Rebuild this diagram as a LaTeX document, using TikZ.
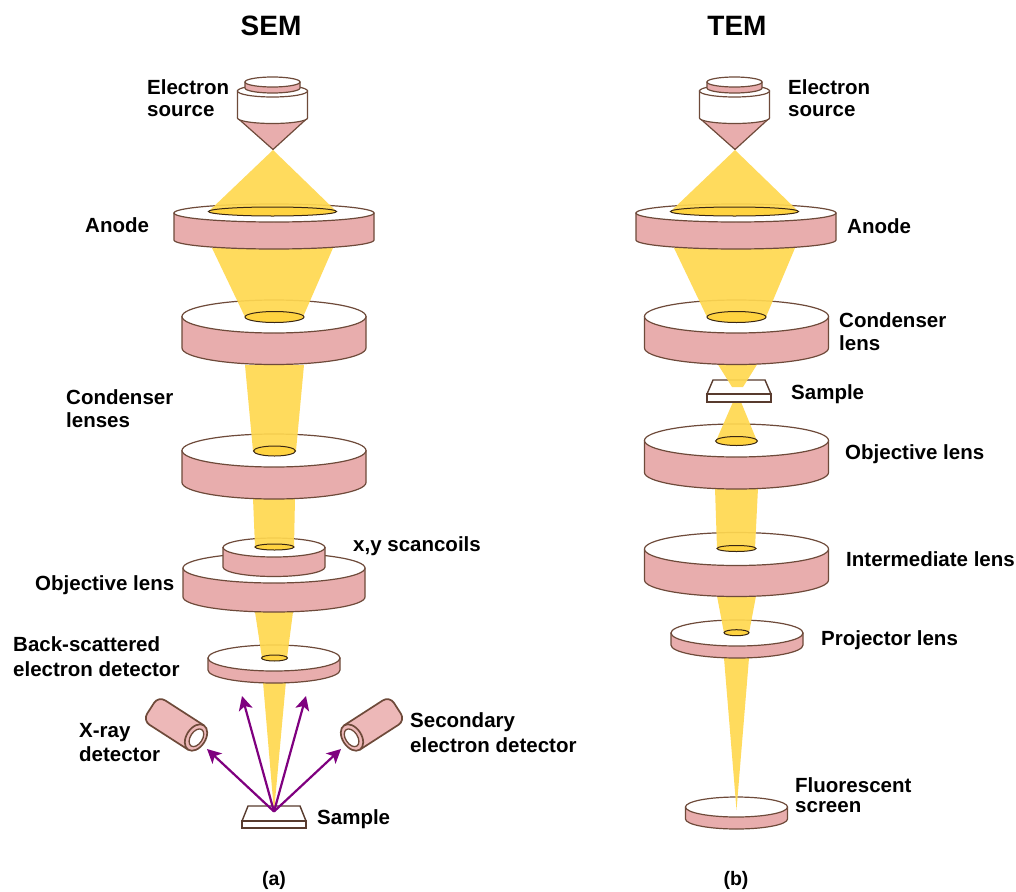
\documentclass[tikz,border=0pt]{standalone}
\usepackage{fontspec}
\setmainfont{Liberation Sans}
\usetikzlibrary{arrows.meta}
\definecolor{lenspink}{HTML}{E8ADAD}
\definecolor{detpink}{HTML}{EDB8B8}
\definecolor{edgebrown}{HTML}{6E4A3A}
\definecolor{beamgold}{HTML}{FFD850}
\definecolor{holegold}{HTML}{FFD340}
\definecolor{ray}{HTML}{7F007F}
\tikzset{
  lensbody/.style={fill=lenspink,draw=edgebrown,line width=1.2pt,line join=round},
  lenstop/.style={fill=white,draw=edgebrown,line width=1.2pt},
  lenshole/.style={fill=holegold,draw=black!70!brown,line width=1pt},
  beamfill/.style={fill=beamgold,fill opacity=.92,draw=none},
  lab/.style={font=\fontsize{20.5}{23}\selectfont\bfseries,align=left,anchor=west,inner sep=0pt},
  title/.style={font=\fontsize{28}{30}\selectfont\bfseries,inner sep=0pt},
  caption/.style={font=\fontsize{19.5}{22}\selectfont\bfseries,inner sep=0pt},
  rayline/.style={draw=ray,line width=2.2pt,-{Stealth[length=14pt,width=14pt,inset=3.5pt]}},
  samplebox/.style={fill=white,draw=edgebrown!80!black,line width=1.4pt,line join=miter}
}
% cx, cy, rx, ry, h
\newcommand{\lensdisk}[5]{%
  \path[lensbody] ({#1-#3},{-(#2)}) -- ({#1-#3},{-(#2+#5)}) arc[start angle=180,end angle=360,x radius=#3,y radius=#4] -- ({#1+#3},{-(#2)}) -- cycle;
  \path[lenstop] (#1,{-(#2)}) ellipse[x radius=#3,y radius=#4];
}
\newcommand{\lenshole}[4]{\path[lenshole] (#1,{-(#2)}) ellipse[x radius=#3,y radius=#4];}
% left top, right top, y top, left bottom, right bottom, y bottom
\newcommand{\beamtrap}[6]{\path[beamfill] (#1,-#3) -- (#2,-#3) -- (#5,-#6) -- (#4,-#6) -- cycle;}
% x offset of the source
\newcommand{\source}[1]{%
  \path[lensbody] ({#1-35},-118) -- ({#1+35},-118) -- ({#1+0.5},-149.5) -- cycle;
  \path[fill=white,draw=edgebrown,line width=1.2pt] ({#1-35},-91) -- ({#1-35},-118) arc[start angle=180,end angle=360,x radius=35,y radius=5.5] -- ({#1+35},-91) -- cycle;
  \path[lenstop] (#1,-91) ellipse[x radius=35,y radius=6];
  \path[lensbody] ({#1-27.5},-82) -- ({#1-27.5},-88) arc[start angle=180,end angle=360,x radius=27.5,y radius=5] -- ({#1+27.5},-82) -- cycle;
  \path[lenstop] (#1,-82) ellipse[x radius=27.5,y radius=5];
}
\newcommand{\detector}[1]{%
  \begin{scope}[#1]
    \path[fill=detpink,draw=edgebrown,line width=1.7pt,rounded corners=8pt] (0,14.5) -- (-54,14.5) -- (-54,-14.5) -- (0,-14.5);
    \path[fill=detpink,draw=edgebrown,line width=1.7pt] (0,0) ellipse[x radius=9.5,y radius=14.5];
    \path[fill=white,draw=edgebrown,line width=1.3pt] (0.5,0) ellipse[x radius=6,y radius=9.8];
  \end{scope}
}
\begin{document}
\begin{tikzpicture}[x=1pt,y=1pt]
\useasboundingbox (0,0) rectangle (1016,-891);
\fill[white] (0,0) rectangle (1016,-891);

% ---------- SEM ----------
\path[samplebox] (248,-806) -- (300,-806) -- (306,-821) -- (242,-821) -- cycle;
\path[samplebox] (242,-821) rectangle (306,-828);
\beamtrap{262}{287}{670}{274}{274}{812}
\lensdisk{274}{658}{66}{13}{12}
\beamtrap{255}{293}{612}{262}{287}{658}
\lenshole{274.5}{658}{13}{3}
\lensdisk{274}{568}{91}{15}{29}
\lensdisk{274}{547.5}{51}{9.5}{19.5}
\beamtrap{253}{295}{498}{255}{294}{547}
\lenshole{274.5}{547}{19.5}{3}
\lensdisk{274}{450.5}{92}{16.5}{32}
\beamtrap{245}{304}{365}{253}{296}{451}
\lenshole{274.5}{451}{21}{5}
\lensdisk{274}{316.5}{92}{16.5}{31.5}
\beamtrap{212}{333}{248}{245}{303}{317}
\lenshole{274.5}{317}{29.5}{5.5}
\lensdisk{274}{213}{100}{9}{27}
\beamtrap{208}{337}{212}{273}{273}{150}
\lenshole{272.5}{211.5}{64}{4.5}
\source{272.5}

\detector{shift={(196,-737.5)},rotate=-32.8}
\detector{shift={(352,-737.5)},xscale=-1,rotate=-32.8}

\coordinate (hitA) at (274,-811.5);
\coordinate (rayA) at (207,-749);
\coordinate (rayB) at (242,-696);
\coordinate (rayC) at (306,-696);
\coordinate (rayD) at (341,-749);
\draw[rayline] (hitA) -- (rayA);
\draw[rayline] (hitA) -- (rayB);
\draw[rayline] (hitA) -- (rayC);
\draw[rayline] (hitA) -- (rayD);

% ---------- TEM ----------
\lensdisk{736.5}{807}{51}{10}{12}
\beamtrap{724}{749}{658}{736.5}{736.5}{810}
\lensdisk{737}{633}{66}{13}{12}
\beamtrap{717}{756}{596}{724}{749}{633}
\lenshole{736.5}{632.7}{12.5}{3}
\lensdisk{736.5}{549}{92}{16.5}{31}
\beamtrap{715}{758}{488}{717}{755}{548.5}
\lenshole{736.5}{548.5}{19.5}{3}
\lensdisk{736.5}{440.5}{92}{16.5}{32}
\beamtrap{733}{741}{402}{716}{757}{441}
\lenshole{736.5}{441}{21}{4.5}
\path[samplebox] (713,-380) -- (765,-380) -- (771,-394) -- (707,-394) -- cycle;
\path[samplebox] (707,-394) rectangle (771,-402);
\beamtrap{717}{758}{363}{732}{743}{387}
\lensdisk{736.5}{316.5}{92}{16.5}{31.5}
\beamtrap{674}{795}{248}{707}{766}{317}
\lenshole{736.5}{317}{29.5}{5.5}
\lensdisk{736}{213}{100}{9}{27}
\beamtrap{670}{799}{212}{735}{735}{150}
\lenshole{734.5}{211.5}{64}{4.5}
\source{734.5}

% ---------- labels ----------
\node[title] (semTitle) at (271,-26) {SEM};
\node[title] (temTitle) at (737,-26) {TEM};
\node[caption] (capA) at (274,-880) {(a)};
\node[caption] (capB) at (736,-880) {(b)};

\node[lab,font=\fontsize{20.5}{22}\selectfont\bfseries] (lSource) at (147,-98.5) {Electron\\source};
\node[lab] (lAnode) at (85,-225) {Anode};
\node[lab] (lCond) at (66,-408.5) {Condenser\\lenses};
\node[lab] (lScan) at (353,-546) {x,y scancoils};
\node[lab] (lObj) at (35,-585) {Objective lens};
\node[lab,font=\fontsize{20.5}{24.5}\selectfont\bfseries] (lBack) at (13,-656.5) {Back-scattered\\electron detector};
\node[lab,font=\fontsize{20.5}{24}\selectfont\bfseries] (lXray) at (79,-743) {X-ray\\detector};
\node[lab,font=\fontsize{20.5}{25}\selectfont\bfseries] (lSec) at (410,-732.5) {Secondary\\electron detector};
\node[lab] (lSam) at (317,-819) {Sample};

\node[lab,font=\fontsize{20.5}{22}\selectfont\bfseries] (tSource) at (788,-98.5) {Electron\\source};
\node[lab] (tAnode) at (847,-226) {Anode};
\node[lab] (tCond) at (839,-331.5) {Condenser\\lens};
\node[lab] (tSam) at (791,-394) {Sample};
\node[lab] (tObj) at (845,-454) {Objective lens};
\node[lab] (tInt) at (846,-559) {Intermediate lens};
\node[lab] (tPro) at (821,-640) {Projector lens};
\node[lab,font=\fontsize{20.5}{20}\selectfont\bfseries] (tFlu) at (795,-795) {Fluorescent\\screen};
\end{tikzpicture}
\end{document}
